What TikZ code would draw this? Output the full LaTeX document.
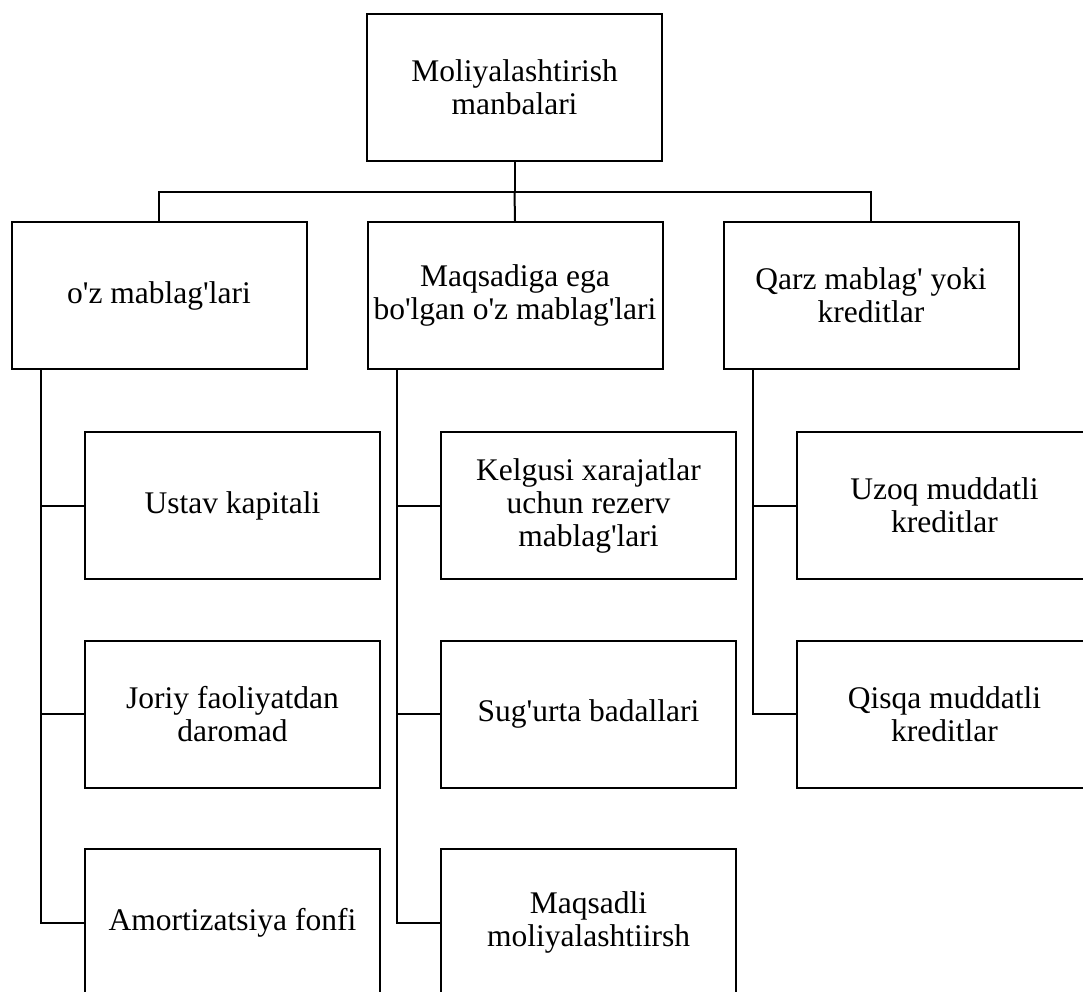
\documentclass[tikz,border=0pt]{standalone}
\usepackage{fontspec}
\setmainfont{Liberation Serif}[Ligatures=TeXOff]
\begin{document}
\begin{tikzpicture}[x=1pt,y=-1pt,
  box/.style={draw,line width=2pt,minimum width=295pt,minimum height=147pt,inner sep=0pt,align=center,font=\fontsize{31.5}{33}\selectfont},
  conn/.style={line width=2pt}]
\useasboundingbox (0,0) rectangle (1083,991);
\node[box] (top) at (514.5,87.5) {Moliyalashtirish\\manbalari};
\node[box] (b1) at (159,295.5) {o'z mablag'lari};
\node[box] (b2) at (515,295.5) {Maqsadiga ega\\bo'lgan o'z mablag'lari};
\node[box] (b3) at (871,295.5) {Qarz mablag' yoki\\kreditlar};
\node[box] (s11) at (232.5,505.5) {Ustav kapitali};
\node[box] (s12) at (232.5,714) {Joriy faoliyatdan\\daromad};
\node[box] (s13) at (232.5,922.5) {Amortizatsiya fonfi};
\node[box] (s21) at (588.5,505.5) {Kelgusi xarajatlar\\uchun rezerv\\mablag'lari};
\node[box] (s22) at (588.5,714) {Sug'urta badallari};
\node[box] (s23) at (588.5,922.5) {Maqsadli\\moliyalashtiirsh};
\node[box] (s31) at (944.5,505.5) {Uzoq muddatli\\kreditlar};
\node[box] (s32) at (944.5,714) {Qisqa muddatli\\kreditlar};
\coordinate (bus) at (514.5,192);
\draw[conn] (top.south) -- (bus);
\draw[conn] (b1.north) -- (b1.north |- bus) -- (b3.north |- bus) -- (b3.north);
\draw[conn] (bus) -- (b2.north);
\coordinate (v1) at ([xshift=30pt]b1.south west);
\coordinate (v2) at ([xshift=30pt]b2.south west);
\coordinate (v3) at ([xshift=30pt]b3.south west);
\draw[conn] (v1) |- (s13.west);
\draw[conn] (v1 |- s11.west) -- (s11.west);
\draw[conn] (v1 |- s12.west) -- (s12.west);
\draw[conn] (v2) |- (s23.west);
\draw[conn] (v2 |- s21.west) -- (s21.west);
\draw[conn] (v2 |- s22.west) -- (s22.west);
\draw[conn] (v3) |- (s32.west);
\draw[conn] (v3 |- s31.west) -- (s31.west);
\end{tikzpicture}
\end{document}
